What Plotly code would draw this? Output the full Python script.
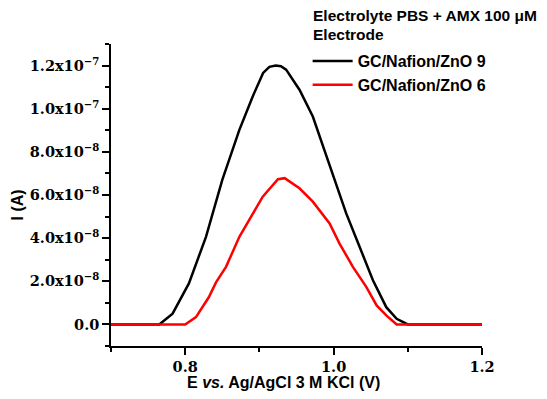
import plotly.graph_objects as go

# Data
potential_zno9 = [0.70, 0.765, 0.783, 0.805, 0.828, 0.850, 0.873, 0.891, 0.905, 0.9135,
                  0.922, 0.929, 0.936, 0.954, 0.972, 0.995, 1.0014, 1.017, 1.035, 1.053,
                  1.071, 1.085, 1.100, 1.20]
current_zno9 = [0, 0, 5.0e-9, 1.9e-8, 4.06e-8, 6.7e-8, 9.02e-8, 1.057e-7, 1.166e-7, 1.194e-7,
                1.20e-7, 1.197e-7, 1.181e-7, 1.088e-7, 9.64e-8, 7.3e-8, 6.7e-8, 5.15e-8, 3.6e-8, 2.05e-8,
                8.0e-9, 2.6e-9, 0, 0]

potential_zno6 = [0.70, 0.80, 0.8145, 0.832, 0.8415, 0.855, 0.873, 0.8865, 0.9045, 0.925,
                  0.934, 0.954, 0.972, 0.9946, 1.008, 1.026, 1.044, 1.058, 1.071, 1.085, 1.20]
current_zno6 = [0, 0, 3.4e-9, 1.27e-8, 1.95e-8, 2.67e-8, 4.06e-8, 4.84e-8, 5.92e-8, 6.73e-8,
                6.78e-8, 6.31e-8, 5.69e-8, 4.68e-8, 3.75e-8, 2.67e-8, 1.74e-8, 8.8e-9, 4.2e-9, 0, 0]

series_names = ["GC/Nafion/ZnO 9", "GC/Nafion/ZnO 6"]
legend_title_lines = ["Electrolyte PBS + AMX 100 \u03bcM", "Electrode"]
x_title = "E <i>vs.</i> Ag/AgCl 3 M KCl (V)"
y_title = "I (A)"

y_tick_vals = [0, 2e-8, 4e-8, 6e-8, 8e-8, 1e-7, 1.2e-7]
y_tick_text = ["0.0", "2.0x10<sup>\u22128</sup>", "4.0x10<sup>\u22128</sup>", "6.0x10<sup>\u22128</sup>",
               "8.0x10<sup>\u22128</sup>", "1.0x10<sup>\u22127</sup>", "1.2x10<sup>\u22127</sup>"]
x_tick_vals = [0.8, 1.0, 1.2]
x_tick_text = ["0.8", "1.0", "1.2"]

fig = go.Figure()
fig.add_trace(go.Scatter(x=potential_zno9, y=current_zno9, mode="lines", name=series_names[0],
                         line=dict(color="black", width=2.5)))
fig.add_trace(go.Scatter(x=potential_zno6, y=current_zno6, mode="lines", name=series_names[1],
                         line=dict(color="#ff0000", width=2.5)))

tick_font = dict(family="DejaVu Serif", size=14.5, color="black", weight="bold")
title_font = dict(family="Liberation Sans, Arial", size=16, color="black", weight="bold")
legend_title_font = dict(family="Liberation Sans, Arial", size=15.5, color="black", weight="bold")
legend_font = dict(family="Liberation Sans, Arial", size=16, color="black", weight="bold")

fig.update_layout(
    width=547, height=399,
    margin=dict(l=103, r=73, t=36, b=61, autoexpand=False),
    plot_bgcolor="white", paper_bgcolor="white",
    showlegend=True,
    legend=dict(
        x=0.53, y=1.0, xanchor="left", yanchor="top",
        bgcolor="rgba(0,0,0,0)",
        font=legend_font,
        tracegroupgap=0, itemwidth=40,
    ),
    xaxis=dict(
        range=[0.7, 1.2], tickvals=x_tick_vals, ticktext=x_tick_text,
        showgrid=False, zeroline=False, showline=True, linecolor="black", linewidth=1.5,
        ticks="outside", ticklen=7, tickwidth=1.5, tickcolor="black",
        minor=dict(tickvals=[0.7, 0.9, 1.1], ticks="outside", ticklen=4, tickwidth=1.5, tickcolor="black"),
        tickfont=tick_font,
    ),
    yaxis=dict(
        range=[-1e-8, 1.3e-7], tickvals=y_tick_vals, ticktext=y_tick_text,
        showgrid=False, zeroline=False, showline=True, linecolor="black", linewidth=1.5,
        ticks="outside", ticklen=7, tickwidth=1.5, tickcolor="black",
        minor=dict(tickvals=[-1e-8, 1e-8, 3e-8, 5e-8, 7e-8, 9e-8, 1.1e-7, 1.3e-7],
                   ticks="outside", ticklen=4, tickwidth=1.5, tickcolor="black"),
        tickfont=tick_font,
    ),
    annotations=[
        dict(text=x_title, xref="paper", yref="paper", x=0.466, y=-0.122,
             xanchor="center", yanchor="middle", showarrow=False, font=title_font),
        dict(text=y_title, xref="paper", yref="paper", x=-0.252, y=0.467, textangle=-90,
             xanchor="center", yanchor="middle", showarrow=False, font=title_font),
        dict(text=legend_title_lines[0], xref="paper", yref="paper", x=0.539, y=1.096,
             xanchor="left", yanchor="middle", showarrow=False, font=legend_title_font),
        dict(text=legend_title_lines[1], xref="paper", yref="paper", x=0.539, y=1.030,
             xanchor="left", yanchor="middle", showarrow=False, font=legend_title_font),
    ],
)

fig.write_html("out.html")
